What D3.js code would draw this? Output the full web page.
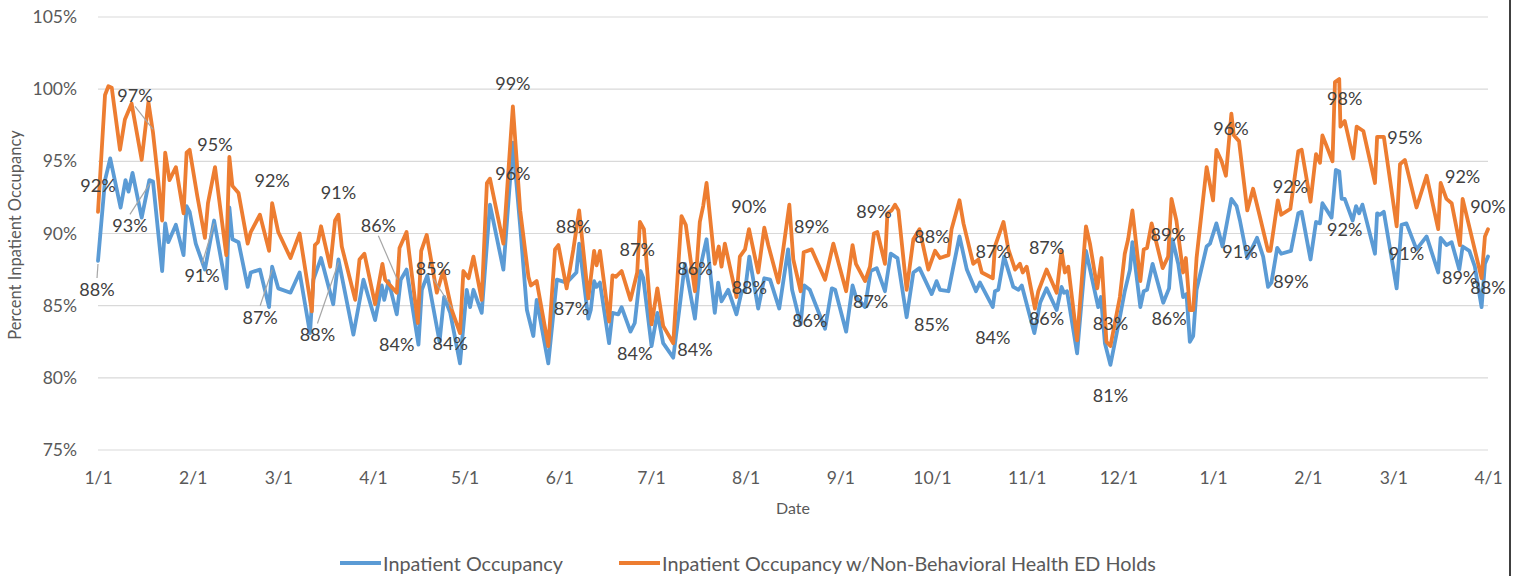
<!DOCTYPE html>
<html>
<head>
<meta charset="utf-8">
<script src="https://cdn.jsdelivr.net/npm/d3@7"></script>
<style>
  html, body { margin: 0; padding: 0; background: #fff; }
  svg { display: block; }
  text { font-family: Lato, "Open Sans", sans-serif; }
</style>
</head>
<body>
<svg id="chart" width="1516" height="576"></svg>
<script>
// ---- DATA (days counted from 1/1 of first year) ----
const startDate = "2018-01-01";
const endDate = "2019-04-01";
const seriesNames = ["Inpatient Occupancy", "Inpatient Occupancy w/Non-Behavioral Health ED Holds"];

const occDays = [0,2.3,4,7.4,9,10,11.3,14.3,16.8,18,21,22,23,25.5,28,29,30,32,35,38,42,43,44,46,49,50,53,56,57,59,63,66,69.4,70.5,73,77,78.7,83.6,86.9,90.7,92.9,93.7,95.1,97.8,99.1,101,104.9,106,107.8,111.8,113.3,115.3,118.5,120.7,121.8,122.9,125.6,128.3,132.7,135.8,138.2,140.4,142.5,143.6,147.4,150.2,153.4,156.6,157.5,160.5,161.3,162.4,163.2,164.3,167.3,168.4,170.3,171.4,174.3,175.7,177.6,178.5,181.2,183.1,185,188.3,190.5,192.1,195.4,197,199.2,201.9,203,204.1,206.3,209,210.7,211.8,213.2,216.1,218.1,220,223,225.9,227.2,230,231.2,233,238,240.2,241.3,244.9,247,248.1,251.1,252.9,254.9,257.6,259.5,261.7,264.7,266.9,268.9,272.9,274.5,275.6,278.4,279.8,282,284.4,287.4,288.7,292.9,293.6,294.7,296.6,299.6,301.3,302.4,306.5,308.4,310.5,313.8,315.4,316.2,317.2,320.5,323.4,327.4,328.3,329.6,331.4,334.5,336.1,337.8,338.6,341.2,342.3,343.4,345.2,348.7,350.6,351.7,353.6,355.2,356.3,357.4,358.5,359.6,362.9,364,366.1,368.1,371,372.7,373.8,376.2,379.4,381.4,383,384.1,386,387.3,390.5,392.9,394,396.9,398.7,400,400.8,403.8,405.2,406.3,407.1,408.1,410.7,411.8,412.8,413.9,418,418.7,419.6,420.9,425.1,426.7,428.3,431.6,434.9,438.7,439.5,441.4,443.1,445.6,446.7,448.9,450.7,452.9,454,455];
const occValues = [88.1,93.7,95.2,91.8,93.7,92.9,94.2,91.1,93.7,93.6,87.4,90.7,89.4,90.6,88.5,91.9,91.5,89.3,87.5,90.9,86.2,91.8,89.6,89.4,86.3,87.3,87.5,84.9,87.7,86.2,85.9,87.3,83.1,86.8,88.3,85.1,88.2,83.0,86.8,84.0,86.4,85.4,86.7,84.4,86.8,87.5,82.3,86.1,87.1,82.5,85.6,84.5,81.0,86.1,84.9,86.1,84.5,92.0,87.5,96.3,90.5,84.7,82.9,85.4,81.0,86.8,86.6,87.3,89.3,84.1,84.7,86.7,86.3,86.6,82.4,84.5,84.4,84.9,83.2,83.8,87.4,86.9,82.2,84.5,82.4,81.4,85.1,87.9,84.1,87.5,89.6,84.5,86.6,85.3,86.1,84.4,86.0,86.0,88.4,84.8,86.9,86.8,84.8,88.9,86.1,83.7,86.4,86.1,83.4,86.2,86.1,83.2,86.4,85.6,84.9,87.4,87.6,86.0,88.6,88.3,84.2,87.3,87.6,85.8,86.7,86.1,86.0,87.5,89.8,87.5,86.0,86.6,84.9,86.0,86.1,88.4,86.3,86.1,86.4,83.1,85.2,86.2,84.7,86.3,85.9,86.0,81.7,88.8,84.9,85.6,82.4,80.9,84.2,86.0,87.5,89.4,84.9,86.0,86.1,87.9,85.2,86.2,89.6,87.9,85.6,85.8,82.5,82.9,86.1,89.1,89.3,90.7,89.1,92.4,91.9,90.9,88.3,89.7,88.4,86.3,86.6,89.0,88.6,88.8,91.4,91.5,88.2,90.8,90.7,92.1,91.1,94.4,94.3,92.4,92.4,90.9,91.9,91.4,92.0,88.6,91.4,91.3,91.5,86.2,90.6,90.7,88.9,89.8,87.3,89.7,89.2,89.4,87.5,89.1,88.8,87.7,84.9,87.9,88.4];

const holdDays = [0,2.3,3.4,4.5,7.2,8.8,11,14.3,16.5,18,19.7,21,22,23.4,25.5,28,29,30,32.5,35,36,38.3,42,43,44,46,49,50,53,56,57,59,63,66,70,71,72,73,76,77.6,78.7,79.8,84.2,85.6,87.2,90.7,93.1,94,97.8,98.7,101,104.7,105.8,107.6,110.9,113,115.8,118.5,119.6,121.3,122.9,125.6,127.3,128.3,132.7,135.8,138.2,140.9,141.7,143.6,147.4,149.6,150.7,153.4,155.6,157.5,160.5,162.4,163.2,164.3,167.3,168.4,169.5,171.4,174.3,176.5,177.4,178.7,181.2,183.1,185,188.3,191,192.4,195.4,197,198.1,199.2,201.9,203.2,204.1,205.2,209,210.1,211.8,213.1,216.1,218.1,219.4,222.7,224.3,226.3,227.6,230,231,233.6,238,240.7,244.9,247,248.1,251.1,252.7,254,255.1,257.6,258.4,259.8,260.9,262,264.7,266.9,268.9,271.8,274,275.6,278.4,279.4,282,283.3,286.5,288.2,289.3,292.9,293.6,296.4,298,300.2,301.8,302.7,304,306.7,307.8,310.5,313.8,315.4,316.5,317.6,320.5,323.4,324.7,327.1,328.5,330.1,331.4,334.5,336.1,337.2,338.6,341.2,342.3,343.4,344.9,348.5,350.3,351.4,353,355.2,356.1,357.4,358.5,359.6,362.9,365,366.1,367.8,369.2,371,371.8,373.5,376.2,378.1,380.3,383,383.8,386.2,387.3,390.3,392.9,394,396.9,398.7,400,400.8,402.1,404.1,404.9,406.3,406.7,408.1,410.9,412,414.2,418,418.7,420.9,425.1,426.2,427.8,431.6,434.9,438.7,439.5,441.4,443.1,445.8,446.7,452.9,454,455];
const holdValues = [91.5,99.6,100.2,100.1,95.8,97.9,99.0,95.1,99.1,97.0,93.7,90.9,95.6,93.7,94.6,91.4,95.6,95.8,92.6,89.7,92.1,94.6,88.5,95.3,93.3,92.8,89.3,90.1,91.3,88.8,92.1,90.1,88.3,90.0,84.6,89.2,89.4,90.5,87.7,90.9,91.3,89.1,85.4,88.2,88.6,85.1,87.9,86.8,85.9,89.0,90.1,83.8,88.8,89.9,85.9,87.4,84.7,83.1,87.4,86.9,88.4,85.4,93.5,93.8,89.3,98.8,91.6,87.0,86.4,86.7,82.2,88.9,89.2,86.2,88.9,91.6,85.5,88.8,87.8,88.8,83.9,87.1,87.0,87.4,85.4,87.3,90.8,90.3,83.7,86.2,83.6,82.4,91.2,90.6,86.0,90.8,91.9,93.5,87.9,89.1,87.7,89.3,85.6,88.4,88.9,90.3,87.3,90.4,89.2,86.6,88.9,92.0,88.2,86.0,88.7,88.9,86.8,89.3,86.0,89.2,87.9,86.7,87.7,90.0,90.1,87.9,91.4,91.6,92.0,91.6,86.1,89.6,90.3,87.5,88.8,88.3,88.5,90.3,92.3,90.7,87.9,88.2,87.3,86.9,89.1,90.8,88.9,87.5,87.9,87.3,87.7,84.8,86.0,87.5,85.9,88.8,87.3,87.7,82.6,90.5,89.3,86.2,88.3,82.5,82.2,85.6,88.6,89.6,91.6,86.7,88.9,89.0,90.7,87.6,88.4,92.4,90.9,87.3,88.3,84.7,84.7,88.3,94.6,92.3,95.8,95.0,94.0,98.3,96.8,96.4,91.6,93.1,91.2,88.8,88.8,92.3,91.3,91.7,95.7,95.8,92.2,95.5,94.9,96.8,96.1,95.0,100.5,100.7,97.4,97.8,95.2,97.4,97.1,93.5,96.7,96.7,90.5,94.8,95.1,91.8,94.0,90.3,93.5,92.4,92.1,89.2,92.4,86.9,89.8,90.3];

// data labels (day anchors and texts)
const occLabelDays = [0,17,38,57,78.7,97.8,115.3,135.8,155,175.7,195.4,213.2,233,252.9,272.9,292.9,310.5,331.4,350.6,373.8,390.5,408.1,428.3,446.7,455];
const occLabelTexts = ["88%","93%","91%","87%","88%","84%","84%","96%","87%","84%","84%","88%","86%","87%","85%","84%","86%","81%","86%","91%","89%","92%","91%","89%","88%"];
const holdLabelDays = [0,18,38.3,57,78.7,98,116,135.8,155.6,176.5,195.4,213.1,233.6,254,273,293,310.5,331.4,350.3,373.5,390.3,408.1,427.8,446.7,455];
const holdLabelTexts = ["92%","97%","95%","92%","91%","86%","85%","99%","88%","87%","86%","90%","89%","89%","88%","87%","87%","83%","89%","96%","92%","98%","95%","92%","90%"];

const yTicks = [75, 80, 85, 90, 95, 100, 105];

// ---- LAYOUT / STYLE ----
const colors = ["#5B9BD5", "#ED7D31"];
const svg = d3.select("#chart");
const plotLeft = 98, plotRight = 1488, plotTop = 17, plotBottom = 450;

const t0 = new Date(startDate + "T00:00:00Z");
const toDate = d => new Date(t0.getTime() + d * 864e5);
const x = d3.scaleUtc().domain([t0, new Date(endDate + "T00:00:00Z")]).range([plotLeft, plotRight]);
const y = d3.scaleLinear().domain([75, 105]).range([plotBottom, plotTop]);

// gridlines
svg.append("g").selectAll("line").data(yTicks).join("line")
  .attr("x1", plotLeft).attr("x2", plotRight)
  .attr("y1", d => y(d)).attr("y2", d => y(d))
  .attr("stroke", "#D9D9D9").attr("stroke-width", 1.2);

// y axis
const yAxis = svg.append("g").attr("transform", `translate(${plotLeft},0)`)
  .call(d3.axisLeft(y).tickValues(yTicks).tickFormat(d => d + "%").tickSize(0).tickPadding(21));
yAxis.select(".domain").remove();
yAxis.selectAll("text").attr("fill", "#595959").style("font-size", "17.5px").style("font-family", "Lato, sans-serif");

// x axis
const xTicks = d3.utcMonth.range(t0, new Date(x.domain()[1].getTime() + 1));
const xAxis = svg.append("g").attr("transform", `translate(0,${plotBottom})`)
  .call(d3.axisBottom(x).tickValues(xTicks).tickFormat(d3.utcFormat("%-m/%-d")).tickSize(0).tickPadding(22));
xAxis.select(".domain").remove();
xAxis.selectAll("text").attr("fill", "#595959").style("font-size", "17.5px").style("font-family", "Lato, sans-serif");

// axis titles
svg.append("text").attr("x", 793).attr("y", 514).attr("text-anchor", "middle")
  .attr("fill", "#595959").style("font-size", "16px").text("Date");
svg.append("text").attr("transform", "translate(21,235) rotate(-90)").attr("text-anchor", "middle")
  .attr("fill", "#595959").style("font-size", "16.5px").text("Percent Inpatient Occupancy");

// lines
const line = d3.line().x(d => x(toDate(d[0]))).y(d => y(d[1])).curve(d3.curveLinear);
const series = [
  d3.zip(occDays, occValues),
  d3.zip(holdDays, holdValues)
];
series.forEach((s, i) => {
  svg.append("path").datum(s).attr("d", line)
    .attr("fill", "none").attr("stroke", colors[i]).attr("stroke-width", 3.8)
    .attr("stroke-linejoin", "round").attr("stroke-linecap", "round");
});

// data labels
function interp(days, vals, d) {
  const i = d3.bisectLeft(days, d);
  if (i <= 0) return vals[0];
  if (i >= days.length) return vals[vals.length - 1];
  const t = (d - days[i - 1]) / (days[i] - days[i - 1]);
  return vals[i - 1] + t * (vals[i] - vals[i - 1]);
}
// label offsets (text centre relative to point)
const occOffsets = occLabelDays.map(() => [0, 30]);
occOffsets[0] = [-1, 28]; occOffsets[1] = [-20, 45]; occOffsets[2] = [-12, 54];
occOffsets[3] = [-12, 50]; occOffsets[4] = [-21, 75]; occOffsets[23] = [-3, 31];
const holdOffsets = holdLabelDays.map(() => [0, -23]);
holdOffsets[0] = [0, -27]; holdOffsets[1] = [-18, -37]; holdOffsets[5] = [-19, -58];
holdOffsets[6] = [-19, -44]; holdOffsets[19] = [-8, -13];
const leaderOcc = [0, 1, 2, 3, 4], leaderHold = [1, 5, 6];

const labelGroup = svg.append("g");
function drawLabels(days, texts, offsets, leaders, sDays, sVals) {
  days.forEach((d, i) => {
    const px = x(toDate(d)), py = y(interp(sDays, sVals, d));
    const [dx, dy] = offsets[i];
    const lx = px + dx, ly = py + dy;
    if (leaders.includes(i)) {
      const sy = ly + (dy > 0 ? -11 : 11);
      labelGroup.append("line").attr("x1", lx).attr("y1", sy).attr("x2", px).attr("y2", py + (dy > 0 ? 3 : -3))
        .attr("stroke", "#A6A6A6").attr("stroke-width", 1.2);
    }
    labelGroup.append("text").attr("x", lx).attr("y", ly).attr("text-anchor", "middle")
      .attr("dominant-baseline", "central").attr("fill", "#404040").style("font-size", "18px").text(texts[i]);
  });
}
drawLabels(occLabelDays, occLabelTexts, occOffsets, leaderOcc, occDays, occValues);
drawLabels(holdLabelDays, holdLabelTexts, holdOffsets, leaderHold, holdDays, holdValues);

// legend
const legendX = [340, 619];
seriesNames.forEach((n, i) => {
  svg.append("line").attr("x1", legendX[i]).attr("x2", legendX[i] + 41).attr("y1", 563).attr("y2", 563)
    .attr("stroke", colors[i]).attr("stroke-width", 4);
  svg.append("text").attr("x", legendX[i] + 43).attr("y", 563).attr("dominant-baseline", "central")
    .attr("fill", "#595959").style("font-size", "19.8px").text(n);
});

// right border
svg.append("line").attr("x1", 1510).attr("x2", 1510).attr("y1", 0).attr("y2", 576)
  .attr("stroke", "#404040").attr("stroke-width", 2);
</script>
</body>
</html>
